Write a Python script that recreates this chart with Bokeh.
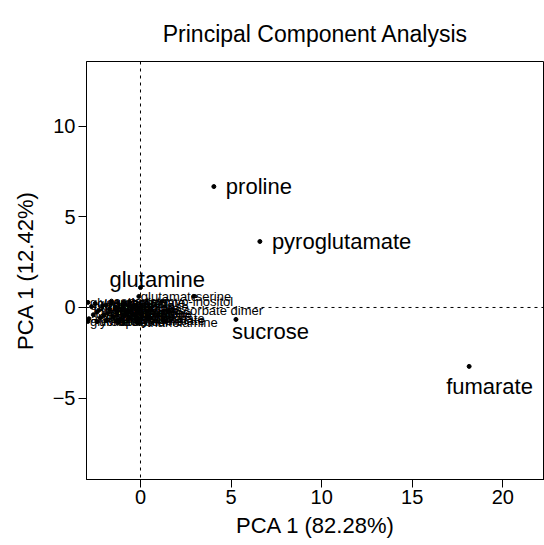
from bokeh.plotting import figure
from bokeh.models import Range1d, Span, ColumnDataSource, FixedTicker
from bokeh.embed import file_html
from bokeh.resources import INLINE
from bokeh.core.properties import value

FONT = "Liberation Sans"

# ---- data ----
major_names = ["glutamine", "proline", "pyroglutamate", "sucrose", "fumarate"]
major_pc1 = [0.0, 4.05, 6.59, 5.27, 18.14]
major_pc2 = [1.10, 6.67, 3.64, -0.66, -3.25]

minor_names = ["glutamate", "serine", "myo-inositol", "ascorbate dimer", "ethanolamine",
               "succinate", "malate", "glycerol", "glycine", "alanine", "phosphate",
               "threonine", "aspartate", "citrate", "fructose", "glucose", "asparagine",
               "valine", "lactate", "galactose", "urea", "putrescine", "threonate",
               "raffinose", "glycerate", "shikimate", "trehalose", "quinate",
               "leucine", "isoleucine", "tyrosine", "phenylalanine", "lysine", "GABA",
               "maltose", "galactinol", "xylose", "pyruvate", "oxalate", "spermidine",
               "2-oxoglutarate", "benzoate"]
minor_pc1 = [-0.09, 2.94, 1.18, 1.51, -0.15, 0.40, 1.29, -2.90, -2.90, -2.85, -2.70,
             -2.30, -1.60, -0.90, -1.30, -2.00, -0.80, -1.90, -1.20, -0.60, -2.40,
             -1.50, -0.30, -1.90, -2.50, -1.00, -0.40, -1.70,
             -2.20, -1.40, -0.70, -1.80, -0.20, -2.60, -1.10, -1.60, -0.50, -2.10,
             -0.90, -1.30, -2.40, -0.60]
minor_pc2 = [0.61, 0.61, 0.33, -0.17, -0.83, -0.60, -0.72, 0.28, -0.77, -0.62, 0.05,
             -0.15, 0.35, 0.20, -0.25, -0.40, -0.35, -0.72, -0.80, -0.60, -0.78,
             -0.50, -0.42, 0.12, 0.22, -0.05, 0.05, -0.10,
             -0.55, 0.00, -0.20, -0.30, -0.70, -0.40, -0.65, 0.25, -0.10, 0.10,
             -0.45, -0.75, -0.25, 0.30]

x_ticks = [0, 5, 10, 15, 20]
y_ticks = [-5, 0, 5, 10]

# label placement offsets (screen pixels) for the large labels
major_dx = [-31, 12, 12, -4, -23]
major_dy = [-8, 0, 0, 12, 20]

p = figure(frame_width=458, frame_height=418,
           x_range=Range1d(-2.98, 22.3), y_range=Range1d(-9.49, 13.57),
           output_backend="svg", toolbar_location=None,
           min_border_left=86, min_border_right=0, min_border_top=61, min_border_bottom=66,
           title="Principal Component Analysis")

p.title.align = "center"
p.title.text_font = FONT
p.title.text_font_size = "23px"
p.title.text_font_style = "normal"
p.title.text_color = "black"
p.title.standoff = 29

p.grid.visible = False
p.background_fill_color = "white"
p.border_fill_color = "white"
p.outline_line_color = "black"
p.outline_line_width = 1

for ax in (p.xaxis[0], p.yaxis[0]):
    ax.axis_line_color = "black"
    ax.major_tick_line_color = "black"
    ax.minor_tick_line_color = None
    ax.major_tick_out = 8
    ax.major_tick_in = 0
    ax.major_label_text_font = FONT
    ax.major_label_text_font_size = "20px"
    ax.major_label_text_color = "black"
    ax.axis_label_text_font = FONT
    ax.axis_label_text_font_size = "22px"
    ax.axis_label_text_font_style = "normal"
    ax.axis_label_text_color = "black"

p.xaxis.ticker = FixedTicker(ticks=x_ticks)
p.yaxis.ticker = FixedTicker(ticks=y_ticks)
p.xaxis.axis_label = "PCA 1 (82.28%)"
p.yaxis.axis_label = "PCA 1 (12.42%)"
p.xaxis.major_label_standoff = 2
p.yaxis.major_label_standoff = 3
p.xaxis.axis_label_standoff = 6
p.yaxis.axis_label_standoff = 12

p.add_layout(Span(location=0, dimension="height", line_color="black",
                  line_dash="3 4", line_width=1))
p.add_layout(Span(location=0, dimension="width", line_color="black",
                  line_dash="3 4", line_width=1))

src_major = ColumnDataSource(dict(x=major_pc1, y=major_pc2, name=major_names,
                                  dx=major_dx, dy=major_dy))
src_minor = ColumnDataSource(dict(x=minor_pc1, y=minor_pc2, name=minor_names))

p.scatter("x", "y", source=src_minor, size=4, color="black")
p.scatter("x", "y", source=src_major, size=4, color="black")

p.text("x", "y", text="name", source=src_minor, text_font=value(FONT),
       text_font_size="13px", text_align="left", text_baseline="middle",
       x_offset=2, text_color="black")
p.text("x", "y", text="name", source=src_major, text_font=value(FONT),
       text_font_size="22px", text_align="left", text_baseline="middle",
       x_offset="dx", y_offset="dy", text_color="black")

open("out.html", "w").write(file_html(p, INLINE))
